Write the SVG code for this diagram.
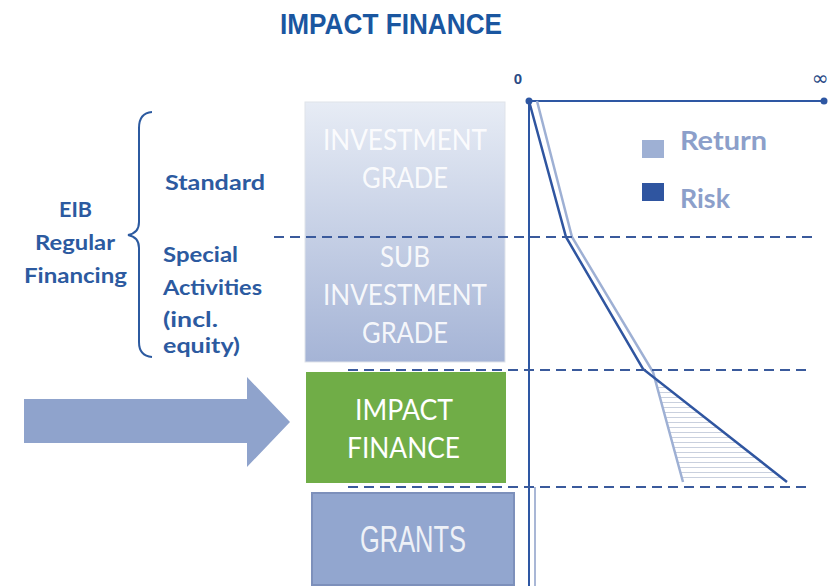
<svg xmlns="http://www.w3.org/2000/svg" width="830" height="586" viewBox="0 0 830 586">
<defs>
<linearGradient id="gBox" x1="0" y1="0" x2="0" y2="1">
<stop offset="0" stop-color="#e7ecf5"/>
<stop offset="1" stop-color="#a5b4d6"/>
</linearGradient>
<pattern id="hatch" patternUnits="userSpaceOnUse" width="8" height="5">
<line x1="0" y1="2.5" x2="8" y2="2.5" stroke="#c9d0de" stroke-width="1"/>
</pattern>
<style>
.title{font-family:"Liberation Sans",Arial,sans-serif;font-weight:bold;fill:#1a56a0}
.lbl{font-family:Lato,"Open Sans",sans-serif;font-weight:bold;fill:#2c5aa0;font-size:21px}
.box{font-family:Lato,"Open Sans",sans-serif;fill:#ffffff;font-size:28px;text-anchor:middle}
.leg{font-family:Lato,"Open Sans",sans-serif;font-weight:bold;fill:#8c9fca;font-size:27px}
.dash{stroke:#3a5a9c;stroke-width:2;stroke-dasharray:10 6;fill:none}
.axis{stroke:#2e57a3;stroke-width:2;fill:none}
</style>
</defs>
<rect width="830" height="586" fill="#ffffff"/>

<text class="title" x="280" y="34" font-size="29" textLength="222" lengthAdjust="spacingAndGlyphs">IMPACT FINANCE</text>

<g id="eib-label">
<path d="M152,112 Q139,113 139,128 L139,222 Q139,233 128,235 Q139,237 139,248 L139,342 Q139,356 152,357" fill="none" stroke="#2c5aa0" stroke-width="2"/>
<text class="lbl" x="75.5" y="217" text-anchor="middle" textLength="33" lengthAdjust="spacingAndGlyphs">EIB</text>
<text class="lbl" x="75" y="250" text-anchor="middle" textLength="80" lengthAdjust="spacingAndGlyphs">Regular</text>
<text class="lbl" x="75.5" y="283" text-anchor="middle" textLength="103" lengthAdjust="spacingAndGlyphs">Financing</text>
</g>
<g id="standard-label">
<text class="lbl" x="165" y="190" textLength="100" lengthAdjust="spacingAndGlyphs">Standard</text>
</g>
<g id="special-label">
<text class="lbl" x="163" y="262" textLength="75" lengthAdjust="spacingAndGlyphs">Special</text>
<text class="lbl" x="163" y="295" textLength="99" lengthAdjust="spacingAndGlyphs">Activities</text>
<text class="lbl" x="163" y="327" textLength="55" lengthAdjust="spacingAndGlyphs">(incl.</text>
<text class="lbl" x="163" y="353" textLength="77" lengthAdjust="spacingAndGlyphs">equity)</text>
</g>

<g id="arrow">
<polygon points="24,399 247,399 247,377 290,422 247,467 247,443 24,443" fill="#8fa3cc"/>
</g>

<g id="grade-box">
<rect x="305" y="102" width="200" height="260" fill="url(#gBox)" stroke="#dfe3ea" stroke-width="1"/>
<text class="box" x="405" y="150" textLength="164" lengthAdjust="spacingAndGlyphs" fill-opacity="0.9">INVESTMENT</text>
<text class="box" x="405" y="188" textLength="86" lengthAdjust="spacingAndGlyphs" fill-opacity="0.9">GRADE</text>
<text class="box" x="405" y="267" textLength="50" lengthAdjust="spacingAndGlyphs" fill-opacity="0.9">SUB</text>
<text class="box" x="405" y="305" textLength="164" lengthAdjust="spacingAndGlyphs" fill-opacity="0.9">INVESTMENT</text>
<text class="box" x="405" y="343" textLength="86" lengthAdjust="spacingAndGlyphs" fill-opacity="0.9">GRADE</text>
</g>

<g id="impact-box">
<rect x="306" y="372" width="200" height="111" fill="#70ad47"/>
<text class="box" x="404" y="420" textLength="98" lengthAdjust="spacingAndGlyphs">IMPACT</text>
<text class="box" x="403.5" y="458" textLength="113" lengthAdjust="spacingAndGlyphs">FINANCE</text>
</g>

<g id="grants-box">
<rect x="312" y="493" width="202" height="92" fill="#92a6cf" stroke="#7d90bb" stroke-width="2"/>
<text x="413" y="552" font-family="'Liberation Sans',Arial,sans-serif" font-size="36" fill="#eef1f7" text-anchor="middle" textLength="106" lengthAdjust="spacingAndGlyphs">GRANTS</text>
</g>

<g id="chart">
<line class="axis" x1="529" y1="101" x2="824" y2="101"/>
<line class="axis" x1="529" y1="101" x2="529" y2="586"/>
<line x1="535" y1="487" x2="535" y2="586" stroke="#a9b7d6" stroke-width="2"/>
<circle cx="529" cy="101" r="3.5" fill="#2e57a3"/>
<circle cx="824" cy="101" r="3.5" fill="#2e57a3"/>
<text x="518" y="84" font-family="'Liberation Sans',Arial,sans-serif" font-weight="bold" font-size="15" fill="#2a4a85" text-anchor="middle">0</text>
<text x="820" y="85" font-family="'DejaVu Sans',sans-serif" font-size="20" fill="#2a4a85" text-anchor="middle">∞</text>
<polygon points="654.5,378 787,482 683,482" fill="url(#hatch)"/>
<polyline points="537,101 572,237 653,372 683,482" fill="none" stroke="#9eb0d4" stroke-width="2.5"/>
<polyline points="529,101 566,237 643,369 787,482" fill="none" stroke="#2f55a0" stroke-width="2.5"/>
</g>

<g id="legend">
<rect x="642" y="140" width="22" height="18" fill="#9eb0d4"/>
<text class="leg" x="680" y="150" textLength="87" lengthAdjust="spacingAndGlyphs">Return</text>
<rect x="642" y="183" width="22" height="18" fill="#2f55a0"/>
<text class="leg" x="680" y="208" textLength="50" lengthAdjust="spacingAndGlyphs">Risk</text>
</g>

<g id="connectors">
<line class="dash" x1="274" y1="237" x2="812" y2="237"/>
<line class="dash" x1="348" y1="370" x2="812" y2="370"/>
<line class="dash" x1="348" y1="487" x2="812" y2="487"/>
</g>
</svg>
